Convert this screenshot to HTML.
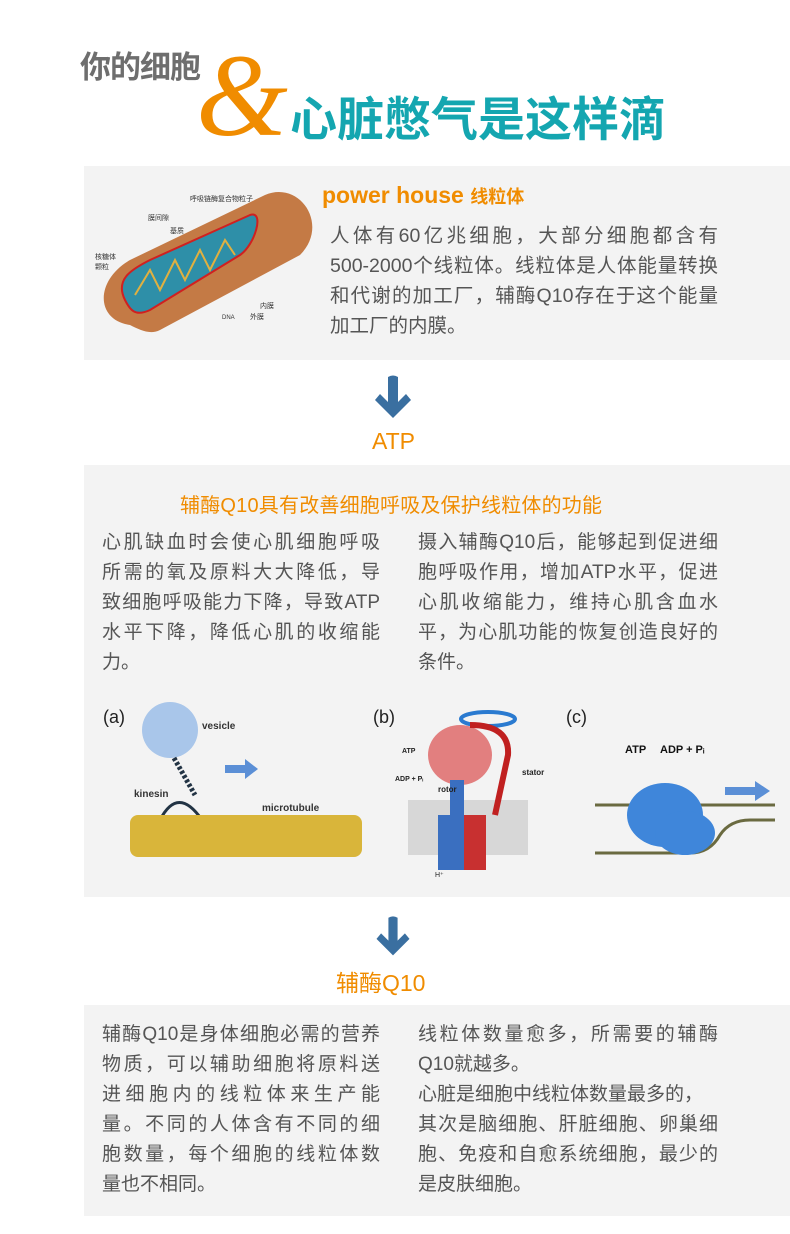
<!DOCTYPE html>
<html><head><meta charset="utf-8"><style>
*{margin:0;padding:0}
body{width:790px;height:1234px;background:#fff;position:relative;overflow:hidden;font-family:"Liberation Sans","Noto Sans CJK SC",sans-serif;color:#555}
.a{position:absolute;white-space:nowrap}
.panel{position:absolute;left:84px;width:706px;background:#f3f3f3}
.t{position:absolute;font-size:19px;line-height:30px;color:#555;white-space:nowrap}
.t div{height:30px}
.j{text-align:justify;text-align-last:justify}
.or{color:#f08c00}
</style></head><body>
<div class="a" style="left:80px;top:42px;font-size:31px;font-weight:bold;color:#6e6e6e;letter-spacing:-1px;font-family:'Noto Sans CJK SC',sans-serif">你的细胞</div>
<div class="a" style="left:196px;top:36px;font-size:118px;line-height:120px;color:#f08c00;font-family:'Liberation Serif',serif;font-style:italic">&amp;</div>
<div class="a" style="left:290px;top:86px;font-size:47px;line-height:60px;font-weight:bold;color:#14a6b0;letter-spacing:0px;font-family:'Noto Sans CJK SC',sans-serif">心脏憋气是这样滴</div>

<div class="panel" style="top:166px;height:194px"></div>
<svg class="a" style="left:90px;top:185px" width="230" height="160" viewBox="0 0 230 160">
<path d="M40 140 C5 135 5 95 40 75 L175 10 C210 -5 240 40 210 70 L70 145 C60 150 50 145 40 140Z" fill="#c47a45"/>
<path d="M35 115 C25 95 40 85 60 75 L160 30 C175 25 165 60 150 70 L60 125 C45 132 40 125 35 115Z" fill="#2e8fa8" stroke="#d02020" stroke-width="2"/>
<path d="M45 110 L60 85 L70 105 L85 75 L95 95 L110 65 L120 85 L135 55 L145 70" fill="none" stroke="#e0b040" stroke-width="2"/>
<text x="100" y="16" font-size="7" fill="#333">呼吸链酶复合物粒子</text>
<text x="58" y="35" font-size="7" fill="#333">膜间隙</text>
<text x="80" y="48" font-size="7" fill="#333">基质</text>
<text x="5" y="74" font-size="7" fill="#333">核糖体</text>
<text x="5" y="84" font-size="7" fill="#333">颗粒</text>
<text x="170" y="123" font-size="7" fill="#333">内膜</text>
<text x="132" y="134" font-size="6" fill="#333">DNA</text>
<text x="160" y="134" font-size="7" fill="#333">外膜</text>
</svg>
<div class="a or" style="left:322px;top:182px;font-size:23px;font-weight:bold">power house <span style="font-size:18px">线粒体</span></div>
<div class="t" style="left:330px;top:221px;width:388px;font-size:19.5px"><div class="j">人体有60亿兆细胞，大部分细胞都含有</div><div class="j">500-2000个线粒体。线粒体是人体能量转换</div><div class="j">和代谢的加工厂，辅酶Q10存在于这个能量</div><div>加工厂的内膜。</div></div>

<svg class="a" style="left:373px;top:374px" width="40" height="48" viewBox="0 0 40 48"><path d="M15 3 Q20 0 25 3 L25 28 L33 20 L38 26 L20 44 L2 26 L7 20 L15 28Z" fill="#3a6fa0"/></svg>
<div class="a or" style="left:372px;top:428px;font-size:23px">ATP</div>

<div class="panel" style="top:465px;height:432px"></div>
<div class="a or" style="left:180px;top:489px;font-size:20px;letter-spacing:0.2px">辅酶Q10具有改善细胞呼吸及保护线粒体的功能</div>
<div class="t" style="left:102px;top:528px;width:278px"><div class="j">心肌缺血时会使心肌细胞呼吸</div><div class="j">所需的氧及原料大大降低，导</div><div class="j">致细胞呼吸能力下降，导致ATP</div><div class="j">水平下降，降低心肌的收缩能</div><div>力。</div></div>
<div class="t" style="left:418px;top:528px;width:300px"><div class="j">摄入辅酶Q10后，能够起到促进细</div><div class="j">胞呼吸作用，增加ATP水平，促进</div><div class="j">心肌收缩能力，维持心肌含血水</div><div class="j">平，为心肌功能的恢复创造良好的</div><div>条件。</div></div>

<svg class="a" style="left:90px;top:695px" width="700" height="195" viewBox="0 0 700 195">
<text x="13" y="28" font-size="18" fill="#222">(a)</text>
<circle cx="80" cy="35" r="28" fill="#a9c6ea"/>
<text x="112" y="34" font-size="10" font-weight="bold" fill="#333">vesicle</text>
<line x1="84" y1="63" x2="105" y2="100" stroke="#234" stroke-width="5" stroke-dasharray="3 2"/>
<path d="M70 125 Q88 90 112 125" fill="none" stroke="#234" stroke-width="3"/>
<text x="44" y="102" font-size="10" font-weight="bold" fill="#333">kinesin</text>
<text x="172" y="116" font-size="10" font-weight="bold" fill="#333">microtubule</text>
<path d="M135 70 H155 V64 L168 74 L155 84 V78 H135Z" fill="#5b8fd6"/>
<rect x="40" y="120" width="232" height="42" rx="8" fill="#d9b53a"/>
<text x="283" y="28" font-size="18" fill="#222">(b)</text>
<ellipse cx="398" cy="24" rx="27" ry="7" fill="none" stroke="#2a7ad0" stroke-width="4"/>
<rect x="318" y="105" width="120" height="55" fill="#bbb" opacity=".5"/>
<ellipse cx="370" cy="60" rx="32" ry="30" fill="#e27f7f"/>
<rect x="360" y="85" width="14" height="40" fill="#3a6fc0"/>
<rect x="348" y="120" width="26" height="55" fill="#3a6fc0"/>
<rect x="374" y="120" width="22" height="55" fill="#c83030"/>
<path d="M380 30 Q420 30 418 60 L405 120" fill="none" stroke="#c02020" stroke-width="6"/>
<text x="312" y="58" font-size="7" font-weight="bold" fill="#222">ATP</text>
<text x="305" y="86" font-size="7" font-weight="bold" fill="#222">ADP + Pᵢ</text>
<text x="348" y="97" font-size="8" font-weight="bold" fill="#222">rotor</text>
<text x="432" y="80" font-size="8" font-weight="bold" fill="#222">stator</text>
<text x="345" y="182" font-size="7" fill="#222">H⁺</text>
<text x="476" y="28" font-size="18" fill="#222">(c)</text>
<line x1="505" y1="110" x2="685" y2="110" stroke="#6a6a40" stroke-width="3"/>
<path d="M505 158 H600 Q620 158 630 140 Q640 125 660 125 H685" fill="none" stroke="#6a6a40" stroke-width="3"/>
<ellipse cx="575" cy="120" rx="38" ry="32" fill="#3f86da"/>
<ellipse cx="595" cy="138" rx="30" ry="22" fill="#3f86da"/>
<text x="535" y="58" font-size="11" font-weight="bold" fill="#111">ATP</text>
<text x="570" y="58" font-size="11" font-weight="bold" fill="#111">ADP + Pᵢ</text>
<path d="M635 92 H665 V86 L680 96 L665 106 V100 H635Z" fill="#5b8fd6"/>
</svg>

<svg class="a" style="left:373px;top:915px" width="40" height="44" viewBox="0 0 40 48"><path d="M15 3 Q20 0 25 3 L25 28 L33 20 L38 26 L20 44 L2 26 L7 20 L15 28Z" fill="#3a6fa0"/></svg>
<div class="a or" style="left:336px;top:964px;font-size:23px">辅酶Q10</div>

<div class="panel" style="top:1005px;height:211px"></div>
<div class="t" style="left:102px;top:1020px;width:278px"><div class="j">辅酶Q10是身体细胞必需的营养</div><div class="j">物质，可以辅助细胞将原料送</div><div class="j">进细胞内的线粒体来生产能</div><div class="j">量。不同的人体含有不同的细</div><div class="j">胞数量，每个细胞的线粒体数</div><div>量也不相同。</div></div>
<div class="t" style="left:418px;top:1020px;width:300px"><div class="j">线粒体数量愈多，所需要的辅酶</div><div>Q10就越多。</div><div style="width:285px" class="j">心脏是细胞中线粒体数量最多的，</div><div class="j">其次是脑细胞、肝脏细胞、卵巢细</div><div class="j">胞、免疫和自愈系统细胞，最少的</div><div>是皮肤细胞。</div></div>
</body></html>
